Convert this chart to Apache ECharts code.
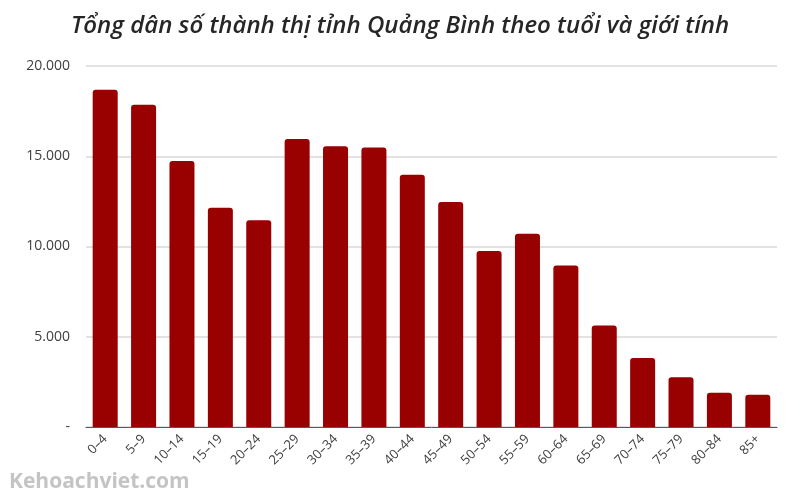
<!DOCTYPE html>
<html>
<head>
<meta charset="utf-8">
<script src="https://cdn.jsdelivr.net/npm/echarts@6/dist/echarts.min.js"></script>
<style>
    html, body { margin: 0; padding: 0; background: #fff; }
    #chart { width: 800px; height: 500px; }
</style>
</head>
<body>
<div id="chart"></div>
<script>
const ageGroups = ['0–4', '5–9', '10–14', '15–19', '20–24', '25–29', '30–34', '35–39', '40–44',
    '45–49', '50–54', '55–59', '60–64', '65–69', '70–74', '75–79', '80–84', '85+']
const population = [18680, 17850, 14730, 12150, 11460, 15950, 15560, 15490, 13980,
    12460, 9750, 10710, 8950, 5630, 3820, 2750, 1900, 1790]
const yTicks = [0, 5000, 10000, 15000, 20000]

function formatNumber(v) {
    if (v === 0) return '-'
    return String(v).replace(/\B(?=(\d{3})+(?!\d))/g, '.')
}

const chart = echarts.init(document.getElementById('chart'))
chart.setOption({
    animation: false,
    title: {
        text: 'Tổng dân số thành thị tỉnh Quảng Bình theo tuổi và giới tính',
        left: 'center',
        top: 9,
        textStyle: {
            fontFamily: 'Open Sans',
            fontStyle: 'italic',
            fontWeight: 600,
            fontSize: 24,
            color: '#262626'
        }
    },
    grid: {
        left: 86,
        right: 23,
        top: 66,
        bottom: 73
    },
    xAxis: {
        type: 'category',
        data: ageGroups,
        axisLine: {
            lineStyle: { color: '#595959', width: 1 }
        },
        axisTick: { show: false },
        axisLabel: {
            rotate: 45,
            interval: 0,
            color: '#404040',
            fontFamily: 'Open Sans',
            fontSize: 13,
            margin: 10
        }
    },
    yAxis: {
        type: 'value',
        min: yTicks[0],
        max: yTicks[yTicks.length - 1],
        interval: 5000,
        axisLine: { show: false },
        axisTick: { show: false },
        axisLabel: {
            color: '#404040',
            fontFamily: 'Open Sans',
            fontSize: 14,
            margin: 16,
            formatter: formatNumber
        },
        splitLine: {
            lineStyle: { color: '#d9d9d9', width: 1.5 }
        }
    },
    series: [{
        type: 'bar',
        data: population,
        barWidth: 25,
        itemStyle: {
            color: '#990000',
            borderRadius: [3, 3, 0, 0]
        }
    }],
    graphic: [{
        type: 'text',
        left: 9,
        top: 472,
        style: {
            text: 'Kehoachviet.com',
            fill: '#c4c4c4',
            font: 'bold 21px "Open Sans"'
        }
    }]
})
</script>
</body>
</html>
